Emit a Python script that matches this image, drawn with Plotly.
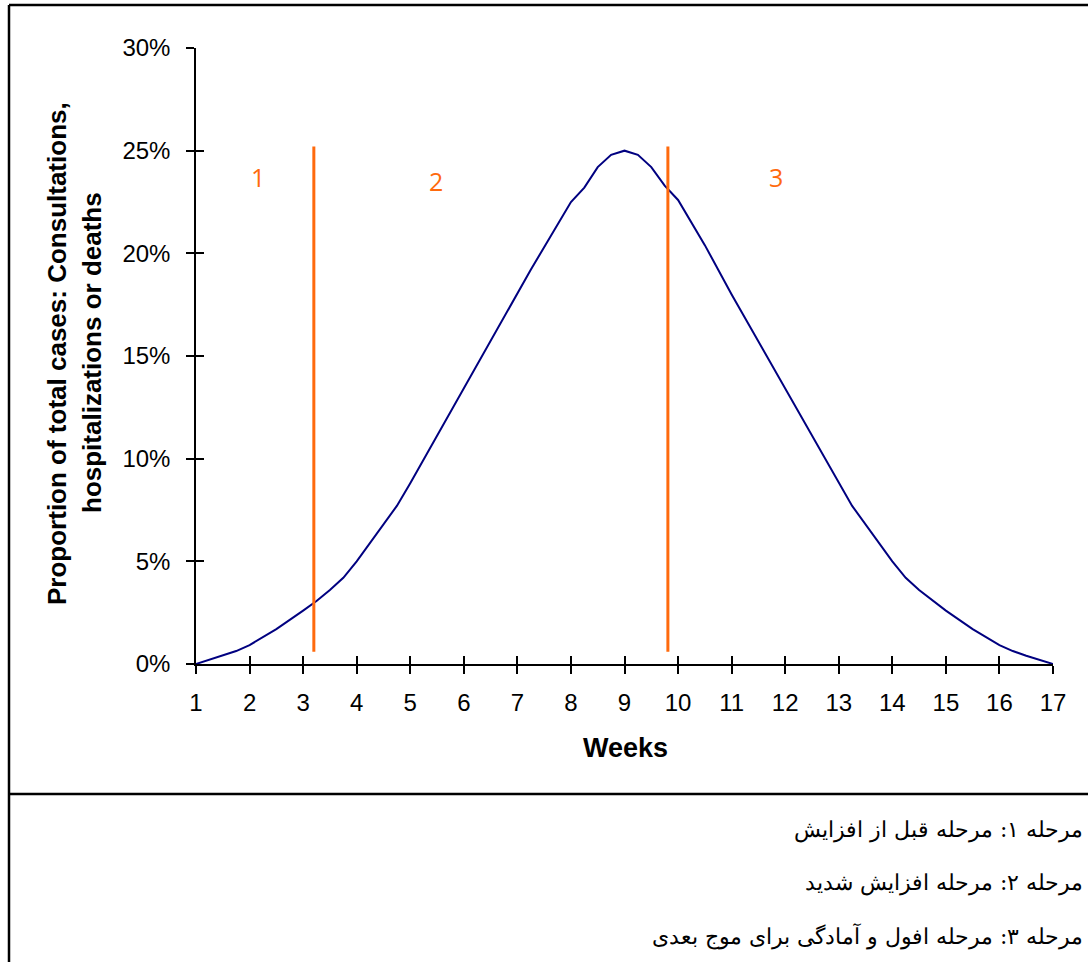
import plotly.graph_objects as go

# ---- data ----
weeks = [1, 1.5, 1.75, 2, 2.5, 3, 3.25, 3.5, 3.75, 4, 4.75, 5, 6, 7, 7.25, 8, 8.25, 8.5, 8.75, 9,
         9.25, 9.5, 9.75, 10, 10.5, 11, 12, 13, 13.25, 14, 14.25, 14.5, 15, 15.5, 16, 16.25, 16.5, 17]
proportion = [0, 0.4, 0.63, 0.92, 1.7, 2.6, 3.07, 3.6, 4.2, 5.0, 7.7, 8.8, 13.4, 18.0, 19.2, 22.5, 23.2, 24.2, 24.8, 25.0,
              24.8, 24.2, 23.3, 22.6, 20.4, 18.0, 13.4, 8.8, 7.7, 5.0, 4.2, 3.6, 2.6, 1.7, 0.92, 0.63, 0.4, 0]
phase_bounds = [3.2, 9.81]
phase_line_y = [0.6, 25.2]
phase_labels = ["1", "2", "3"]
phase_label_x = [2.16, 5.48, 11.83]
phase_label_y = [23.7, 23.5, 23.7]
x_ticks = list(range(1, 18))
y_ticks = [0, 5, 10, 15, 20, 25, 30]
y_tick_labels = ["0%", "5%", "10%", "15%", "20%", "25%", "30%"]
notes = ["مرحله ۱: مرحله قبل از افزایش",
         "مرحله ۲: مرحله افزایش شدید",
         "مرحله ۳: مرحله افول و آمادگی برای موج بعدی"]

W, H = 1088, 962
L, R, T, B = 196, 35, 48, 298
PW, PH = W - L - R, H - T - B


def px(x):
    return (x - L) / PW


def py(y):
    return (H - B - y) / PH


ORANGE = "#FF6A0D"
NAVY = "#000080"
AX = dict(family="Liberation Sans, Arial, sans-serif", size=24, color="black")

fig = go.Figure()
fig.add_trace(go.Scatter(x=weeks, y=proportion, mode="lines",
                         line=dict(color=NAVY, width=2), showlegend=False, hoverinfo="skip"))
for b in phase_bounds:
    fig.add_trace(go.Scatter(x=[b, b], y=phase_line_y, mode="lines",
                             line=dict(color=ORANGE, width=3), showlegend=False, hoverinfo="skip"))
fig.add_trace(go.Scatter(x=[], y=[], xaxis="x2", yaxis="y2", showlegend=False))

for lab, lx, ly in zip(phase_labels, phase_label_x, phase_label_y):
    fig.add_annotation(x=lx, y=ly, text=lab, showarrow=False,
                       font=dict(family="Open Sans, sans-serif", size=25, color=ORANGE))

common = dict(showgrid=False, zeroline=False, ticklen=8, tickwidth=1.5, tickcolor="black")
fig.update_layout(
    width=W, height=H,
    margin=dict(l=L, r=R, t=T, b=B, pad=0),
    paper_bgcolor="white", plot_bgcolor="white",
    xaxis=dict(range=[1, 17], tickvals=x_ticks, ticks="outside", showline=True,
               linecolor="black", linewidth=1.5, tickfont=AX, ticklabelstandoff=8, **common),
    yaxis=dict(range=[0, 30], tickvals=y_ticks, ticktext=y_tick_labels, ticks="outside", showline=True,
               linecolor="black", linewidth=1.5, tickfont=AX, ticklabelstandoff=11, **common),
    xaxis2=dict(range=[1, 17], tickvals=x_ticks, ticks="inside", overlaying="x", anchor="y2",
                showticklabels=False, showline=False, **common),
    yaxis2=dict(range=[0, 30], tickvals=y_ticks, ticks="inside", overlaying="y", anchor="x2",
                showticklabels=False, showline=False, **common),
)

fig.add_annotation(xref="paper", yref="paper", x=px(625), y=py(748), text="<b>Weeks</b>",
                   showarrow=False, xanchor="center", yanchor="middle",
                   font=dict(family="Liberation Sans, Arial, sans-serif", size=27, color="black"))
ytitle_font = dict(family="Liberation Sans, Arial, sans-serif", size=26, color="black")
fig.add_annotation(xref="paper", yref="paper", x=px(57), y=py(354),
                   text="<b>Proportion of total cases: Consultations,</b>",
                   showarrow=False, font=ytitle_font, textangle=-90, xanchor="center", yanchor="middle")
fig.add_annotation(xref="paper", yref="paper", x=px(92), y=py(353),
                   text="<b>hospitalizations or deaths</b>",
                   showarrow=False, font=ytitle_font, textangle=-90, xanchor="center", yanchor="middle")

for i, t in enumerate(notes):
    fig.add_annotation(xref="paper", yref="paper", x=px(1085), y=py(830 + 53 * i), text=t,
                       showarrow=False, xanchor="right", yanchor="middle",
                       font=dict(family="DejaVu Serif, Liberation Serif, serif", size=22, color="black"))

# frame lines
frame = dict(color="black", width=2.5)
fig.add_shape(type="line", xref="paper", yref="paper", x0=px(9), x1=px(9), y0=py(5), y1=py(962), line=frame)
fig.add_shape(type="line", xref="paper", yref="paper", x0=px(9), x1=px(1090), y0=py(5), y1=py(5), line=frame)
fig.add_shape(type="line", xref="paper", yref="paper", x0=px(9), x1=px(1090), y0=py(794), y1=py(794), line=frame)

fig.write_html("out.html", config={"displayModeBar": False},
               post_script="document.body.style.margin='0';document.body.style.overflow='hidden';")
